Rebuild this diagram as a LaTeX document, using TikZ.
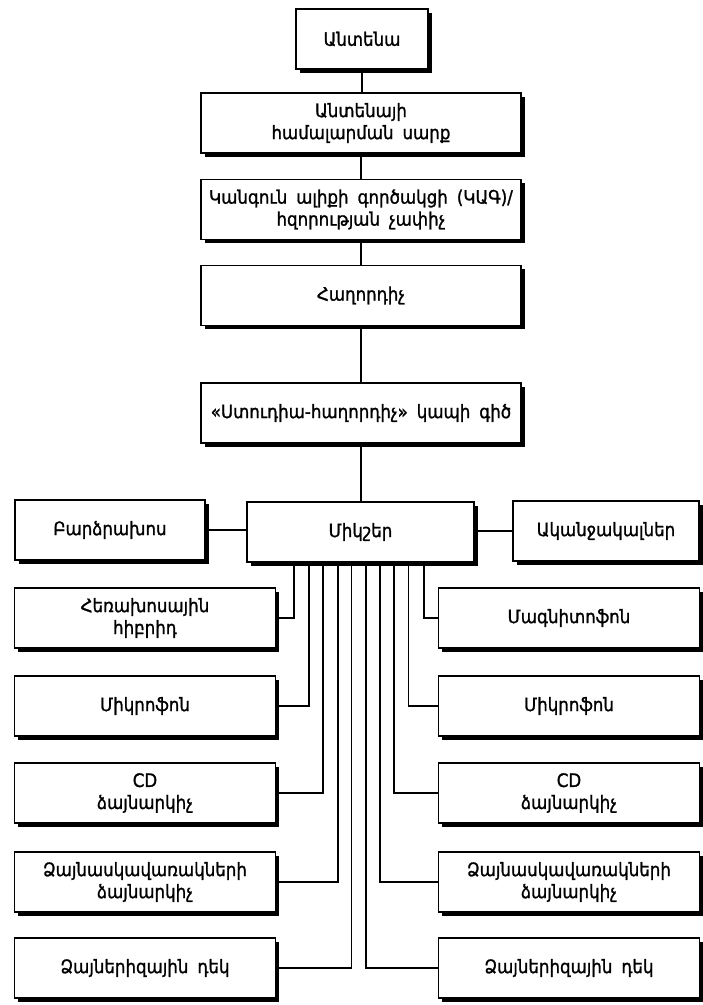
\documentclass[tikz,border=0pt]{standalone}
\usepackage{fontspec}
\setmainfont{DejaVu Sans Condensed}[FakeBold=1.3, WordSpace=1.7]
\usetikzlibrary{shadows,calc}
\begin{document}
\begin{tikzpicture}[x=1pt,y=-1pt,
  box/.style={draw, line width=1.3pt, fill=white, align=center, inner sep=2pt,
    minimum height=60pt, font=\fontsize{18.5}{22}\selectfont,
    drop shadow={shadow xshift=3.5pt, shadow yshift=-3.5pt, fill=black, opacity=1}},
  wide/.style={box, minimum width=320pt},
  side/.style={box, minimum width=261pt},
  wire/.style={line width=1.3pt}]
\useasboundingbox (0,0) rectangle (703,1005);

% main chain
\node[box, minimum width=132pt] (ant) at (362,39) {Անտենա};
\node[wide] (tune) at (361,123) {Անտենայի\\համալարման սարք};
\node[wide] (swr)  at (361,209.5) {Կանգուն ալիքի գործակցի (ԿԱԳ)/\\հզորության չափիչ};
\node[wide] (tx)   at (361,295.5) {Հաղորդիչ};
\node[wide] (stl)  at (361,413) {«Ստուդիա-հաղորդիչ» կապի գիծ};

% mixer row
\node[box, minimum width=227pt] (mx) at (360.5,532) {Միկշեր};
\node[box, minimum width=190pt] (spk) at (110,530) {Բարձրախոս};
\node[box, minimum width=186pt] (hph) at (606,531) {Ականջակալներ};

% sources, left column
\node[side] (l1) at (145,618) {Հեռախոսային\\հիբրիդ};
\node[side] (l2) at (145,706) {Միկրոֆոն};
\node[side] (l3) at (145,793) {CD\\ձայնարկիչ};
\node[side] (l4) at (145,882) {Ձայնասկավառակների\\ձայնարկիչ};
\node[side] (l5) at (145,968) {Ձայներիզային դեկ};

% sources, right column
\node[side] (r1) at (569,618) {Մագնիտոֆոն};
\node[side] (r2) at (569,706) {Միկրոֆոն};
\node[side] (r3) at (569,793) {CD\\ձայնարկիչ};
\node[side] (r4) at (569,882) {Ձայնասկավառակների\\ձայնարկիչ};
\node[side] (r5) at (569,968) {Ձայներիզային դեկ};

% chain links
\draw[wire] (ant.south) -- (tune.north -| ant.south);
\draw[wire] (tune.south) -- (swr.north);
\draw[wire] (swr.south) -- (tx.north);
\draw[wire] (tx.south) -- (stl.north);
\draw[wire] (stl.south) -- (mx.north -| stl.south);
\draw[wire] (spk.east) -- (mx.west |- spk.east);
\draw[wire] (hph.west) -- (mx.east |- hph.west);

% source buses into the mixer
\draw[wire] (l1.east) -| ($(mx.south)+(-66.5,0)$);
\draw[wire] (l2.east) -| ($(mx.south)+(-51.5,0)$);
\draw[wire] (l3.east) -| ($(mx.south)+(-37.5,0)$);
\draw[wire] (l4.east) -| ($(mx.south)+(-22.5,0)$);
\draw[wire] (l5.east) -| ($(mx.south)+(-9,0)$);
\draw[wire] (r5.west) -| ($(mx.south)+(5.5,0)$);
\draw[wire] (r4.west) -| ($(mx.south)+(19.5,0)$);
\draw[wire] (r3.west) -| ($(mx.south)+(33.5,0)$);
\draw[wire] (r2.west) -| ($(mx.south)+(48,0)$);
\draw[wire] (r1.west) -| ($(mx.south)+(63.5,0)$);
\end{tikzpicture}
\end{document}
